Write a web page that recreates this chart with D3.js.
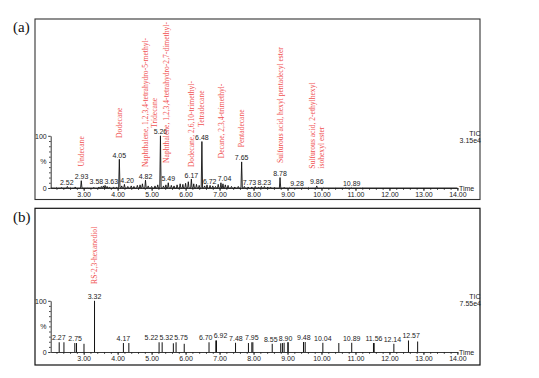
<!DOCTYPE html>
<html>
<head>
<meta charset="utf-8">
<script src="https://cdn.jsdelivr.net/npm/d3@7"></script>
<style>
  body { margin: 0; background: #fff; }
</style>
</head>
<body>
<svg width="539" height="378" font-family="Liberation Sans, Arial, sans-serif"></svg>
<script>
// ---- panel (a): labelled peaks (retention time, min / relative height, %)
var aPeakTimes   = [2.52, 2.93, 3.58, 3.63, 4.05, 4.20, 4.82, 5.26, 5.49, 6.17, 6.48, 6.72, 7.04, 7.65, 7.73, 8.23, 8.78, 9.28, 9.86, 10.89];
var aPeakHeights = [3, 14, 4, 5, 55, 7, 15, 100, 10, 17, 89, 5, 10, 50, 3, 3, 20, 1, 4, 1];

// small unlabelled bumps of the trace
var aMinorTimes   = [2.20, 2.35, 2.62, 2.75, 3.10, 3.30, 3.45, 3.52, 3.69, 3.76, 3.88, 3.97, 4.12, 4.30, 4.40, 4.48, 4.58, 4.66, 4.73, 4.90, 5.00, 5.10, 5.18, 5.35, 5.42, 5.58, 5.66, 5.75, 5.84, 5.92, 6.00, 6.08, 6.24, 6.32, 6.40, 6.56, 6.63, 6.80, 6.88, 6.96, 7.10, 7.17, 7.25, 7.35, 7.45, 7.55, 7.84, 7.95, 8.05, 8.15, 8.32, 8.42, 8.50, 8.62, 8.90, 9.05, 9.45, 9.62, 10.05, 10.40, 10.70, 11.20];
var aMinorHeights = [1, 1.5, 1, 2, 1, 1.5, 2, 3, 3, 2, 2, 2, 4, 3, 4, 3, 5, 6, 8, 4, 3, 4, 6, 4, 6, 5, 4, 6, 8, 7, 9, 12, 8, 7, 5, 4, 6, 4, 3, 7, 8, 6, 5, 3, 2, 3, 2, 2, 3, 2, 3, 2, 2, 1.5, 1.5, 1, 1, 1, 1, 0.8, 0.8, 0.5];

// identified compounds (name lines split by "|"), peak time and label foot level (%)
var aCompounds = ["Undecane", "Dodecane", "Naphthalene, 1,2,3,4-tetrahydro-5-methyl-", "Tridecane",
  "Naphthalene, 1,2,3,4-tetrahydro-2,7-dimethyl-", "Dodecane, 2,6,10-trimethyl-", "Tetradecane",
  "Decane, 2,3,4-trimethyl-", "Pentadecane", "Sulfurous acid, hexyl pentadecyl ester",
  "Sulfurous acid, 2-ethylhexyl|isohexyl ester"];
var aCompoundTimes  = [2.93, 4.05, 4.82, 5.26, 5.26, 6.17, 6.48, 7.04, 7.65, 8.78, 9.86];
var aCompoundLevels = [41, 96, 40, 115, 48, 40, 117, 57, 78, 48, 37];

// ---- panel (b): sticks
var bStickTimes   = [2.28, 2.42, 2.74, 2.79, 3.01, 3.32, 4.17, 4.33, 5.22, 5.31, 5.64, 5.72, 5.96, 6.69, 6.89, 6.91, 7.47, 7.85, 7.95, 7.98, 8.55, 8.80, 8.85, 8.90, 9.01, 9.02, 9.47, 9.52, 10.04, 10.51, 10.89, 11.53, 11.55, 12.13, 12.56, 12.83];
var bStickHeights = [19, 19, 17.5, 17.5, 16, 100, 17.5, 17.5, 19, 19, 17, 19, 16, 19, 22.5, 22.5, 18, 17.5, 19, 19, 16, 17, 17.5, 18, 19, 19, 19.5, 19.5, 18, 17.5, 18, 17.5, 17.5, 16, 22.5, 20.5];
var bLabels = ["2.27", "2.75", "3.32", "4.17", "5.22", "5.32", "5.75", "6.70", "6.92", "7.48", "7.95", "8.55", "8.90", "9.48", "10.04", "10.89", "11.56", "12.14", "12.57"];
var bCompounds = ["RS-2,3-hexanediol"];
var bCompoundTimes = [3.32];
var bCompoundLevels = [133];

// tick labels
var xTicks = [3, 4, 5, 6, 7, 8, 9, 10, 11, 12, 13, 14];
var yTicks = [0, 100];

var red = "#f05050";
var serif = "Liberation Serif, Times New Roman, serif";
var sans = "Liberation Sans, Arial, sans-serif";
var svg = d3.select("svg");

var x = d3.scaleLinear().domain([2.03, 14.0]).range([50.7, 457.4]);
var yA = d3.scaleLinear().domain([0, 100]).range([188, 135.8]);
var yB = d3.scaleLinear().domain([0, 100]).range([352, 300.8]);

// axes for one panel
function drawAxes(y, ticTop, scaleText) {
  var gx = svg.append("g").attr("transform", "translate(0," + y(0) + ")");
  gx.call(d3.axisBottom(x).tickValues(xTicks).tickFormat(d3.format(".2f"))
      .tickSize(3).tickPadding(1.5).tickSizeOuter(0));
  svg.append("g").attr("transform", "translate(0," + y(0) + ")")
      .call(d3.axisBottom(x).tickValues(d3.range(2.2, 14.01, 0.2)).tickSize(1.8).tickFormat(""))
      .select(".domain").remove();

  var gy = svg.append("g").attr("transform", "translate(" + x.range()[0] + ",0)");
  gy.call(d3.axisLeft(y).tickValues(yTicks).tickSize(2.5).tickPadding(1.5).tickSizeOuter(0));
  svg.append("g").attr("transform", "translate(" + x.range()[0] + ",0)")
      .call(d3.axisLeft(y).tickValues(d3.range(10, 100, 10)).tickSize(1.6).tickFormat(""))
      .select(".domain").remove();

  svg.selectAll(".tick text").attr("font-size", 7).attr("fill", "#222")
      .attr("font-family", sans);
  svg.selectAll(".domain, .tick line").attr("stroke", "#222").attr("stroke-width", 0.9);

  svg.append("text").attr("x", 46.5).attr("y", y(50) + 2.5).attr("text-anchor", "end")
      .attr("font-size", 7).attr("fill", "#222").text("%");
  svg.append("text").attr("x", x.range()[1] + 1.5).attr("y", y(0) + 2.5)
      .attr("font-size", 7).attr("fill", "#222").text("Time");
  svg.append("text").attr("x", 480.5).attr("y", ticTop).attr("text-anchor", "end")
      .attr("font-size", 7).attr("fill", "#222").text("TIC");
  svg.append("text").attr("x", 481).attr("y", ticTop + 7.5).attr("text-anchor", "end")
      .attr("font-size", 7).attr("fill", "#222").text(scaleText);
}

// peak labels pushed apart so they do not overlap each other or tall peak lines
function placeLabels(items, lines) {
  var g = svg.append("g");
  items.forEach(function(d) {
    d.node = g.append("text").attr("font-size", 7).attr("fill", "#222")
        .attr("text-anchor", "middle").text(d.text);
    d.w = d.node.node().getComputedTextLength();
    d.cx = d.x;
  });
  for (var k = 0; k < 80; k++) {
    for (var i = 0; i < items.length; i++) {
      for (var j = i + 1; j < items.length; j++) {
        var a = items[i], b = items[j];
        if (Math.abs(a.y - b.y) > 6.5) continue;
        var need = (a.w + b.w) / 2 + 1.2;
        var d = b.cx - a.cx;
        if (Math.abs(d) < need) {
          var s = (need - Math.abs(d)) / 2 * (d >= 0 ? 1 : -1);
          a.cx -= s; b.cx += s;
        }
      }
      lines.forEach(function(l) {
        var a = items[i];
        if (l.top > a.y - 6) return;
        var dd = a.cx - l.x, need = a.w / 2 + 1;
        if (Math.abs(dd) < need) a.cx = l.x + (dd >= 0 ? need : -need);
      });
    }
  }
  items.forEach(function(d) { d.node.attr("x", d.cx).attr("y", d.y); });
}

// rotated compound names
function drawCompounds(names, times, levels, y) {
  var groups = d3.group(names.map(function(n, i) { return {name: n, t: times[i], lvl: levels[i]}; }), function(d) { return d.t; });
  groups.forEach(function(list) {
    list.forEach(function(d, i) {
      var cx = x(d.t) + (i - (list.length - 1) / 2) * 12;
      var parts = d.name.split("|");
      parts.forEach(function(p, j) {
        var px = cx + (j - (parts.length - 1) / 2) * 9 + 2.6;
        svg.append("text")
            .attr("transform", "translate(" + px + "," + y(d.lvl) + ") rotate(-90)")
            .attr("font-family", serif)
            .attr("font-size", 7.6).attr("fill", red).text(p);
      });
    });
  });
}

// ---- frames
svg.append("rect").attr("x", 35).attr("y", 19).attr("width", 445).attr("height", 180.5)
    .attr("fill", "none").attr("stroke", "#333").attr("stroke-width", 1.1);
svg.append("rect").attr("x", 35).attr("y", 208.3).attr("width", 445).attr("height", 156.7)
    .attr("fill", "none").attr("stroke", "#111").attr("stroke-width", 1.2);

svg.append("text").attr("x", 13).attr("y", 31.5).attr("font-family", serif)
    .attr("font-size", 15).attr("fill", "#111").text("(a)");
svg.append("text").attr("x", 13).attr("y", 221.5).attr("font-family", serif)
    .attr("font-size", 15).attr("fill", "#111").text("(b)");

// ---- panel (a)
drawAxes(yA, 135.5, "3.15e4");

var aAll = aPeakTimes.map(function(t, i) { return {t: t, h: aPeakHeights[i]}; })
    .concat(aMinorTimes.map(function(t, i) { return {t: t, h: aMinorHeights[i]}; }))
    .sort(function(a, b) { return a.t - b.t; });
var pts = [[x.domain()[0], 0]];
aAll.forEach(function(p) { pts.push([p.t - 0.02, 0], [p.t, p.h], [p.t + 0.02, 0]); });
pts.push([x.domain()[1], 0]);

svg.append("path").datum(pts)
    .attr("fill", "none").attr("stroke", "#111").attr("stroke-width", 0.9)
    .attr("d", d3.line().x(function(d) { return x(d[0]); }).y(function(d) { return yA(d[1]); }));

placeLabels(aPeakTimes.map(function(t, i) {
  return {text: d3.format(".2f")(t), x: x(t), y: yA(aPeakHeights[i]) - 1.5};
}), aPeakTimes.map(function(t, i) { return {x: x(t), top: yA(aPeakHeights[i])}; }));

drawCompounds(aCompounds, aCompoundTimes, aCompoundLevels, yA);

// ---- panel (b)
drawAxes(yB, 298.5, "7.55e4");

svg.append("g").selectAll("line")
    .data(bStickTimes)
    .join("line")
    .attr("x1", function(d) { return x(d); })
    .attr("x2", function(d) { return x(d); })
    .attr("y1", yB(0))
    .attr("y2", function(d, i) { return yB(bStickHeights[i]); })
    .attr("stroke", "#111").attr("stroke-width", 1);

placeLabels(bLabels.map(function(s) {
  var t = +s, h = 0;
  bStickTimes.forEach(function(st, i) { if (Math.abs(st - t) < 0.06) h = Math.max(h, bStickHeights[i]); });
  return {text: s, x: x(t), y: yB(h) - 2};
}), bStickTimes.map(function(t, i) { return {x: x(t), top: yB(bStickHeights[i])}; }));

drawCompounds(bCompounds, bCompoundTimes, bCompoundLevels, yB);
</script>
</body>
</html>
